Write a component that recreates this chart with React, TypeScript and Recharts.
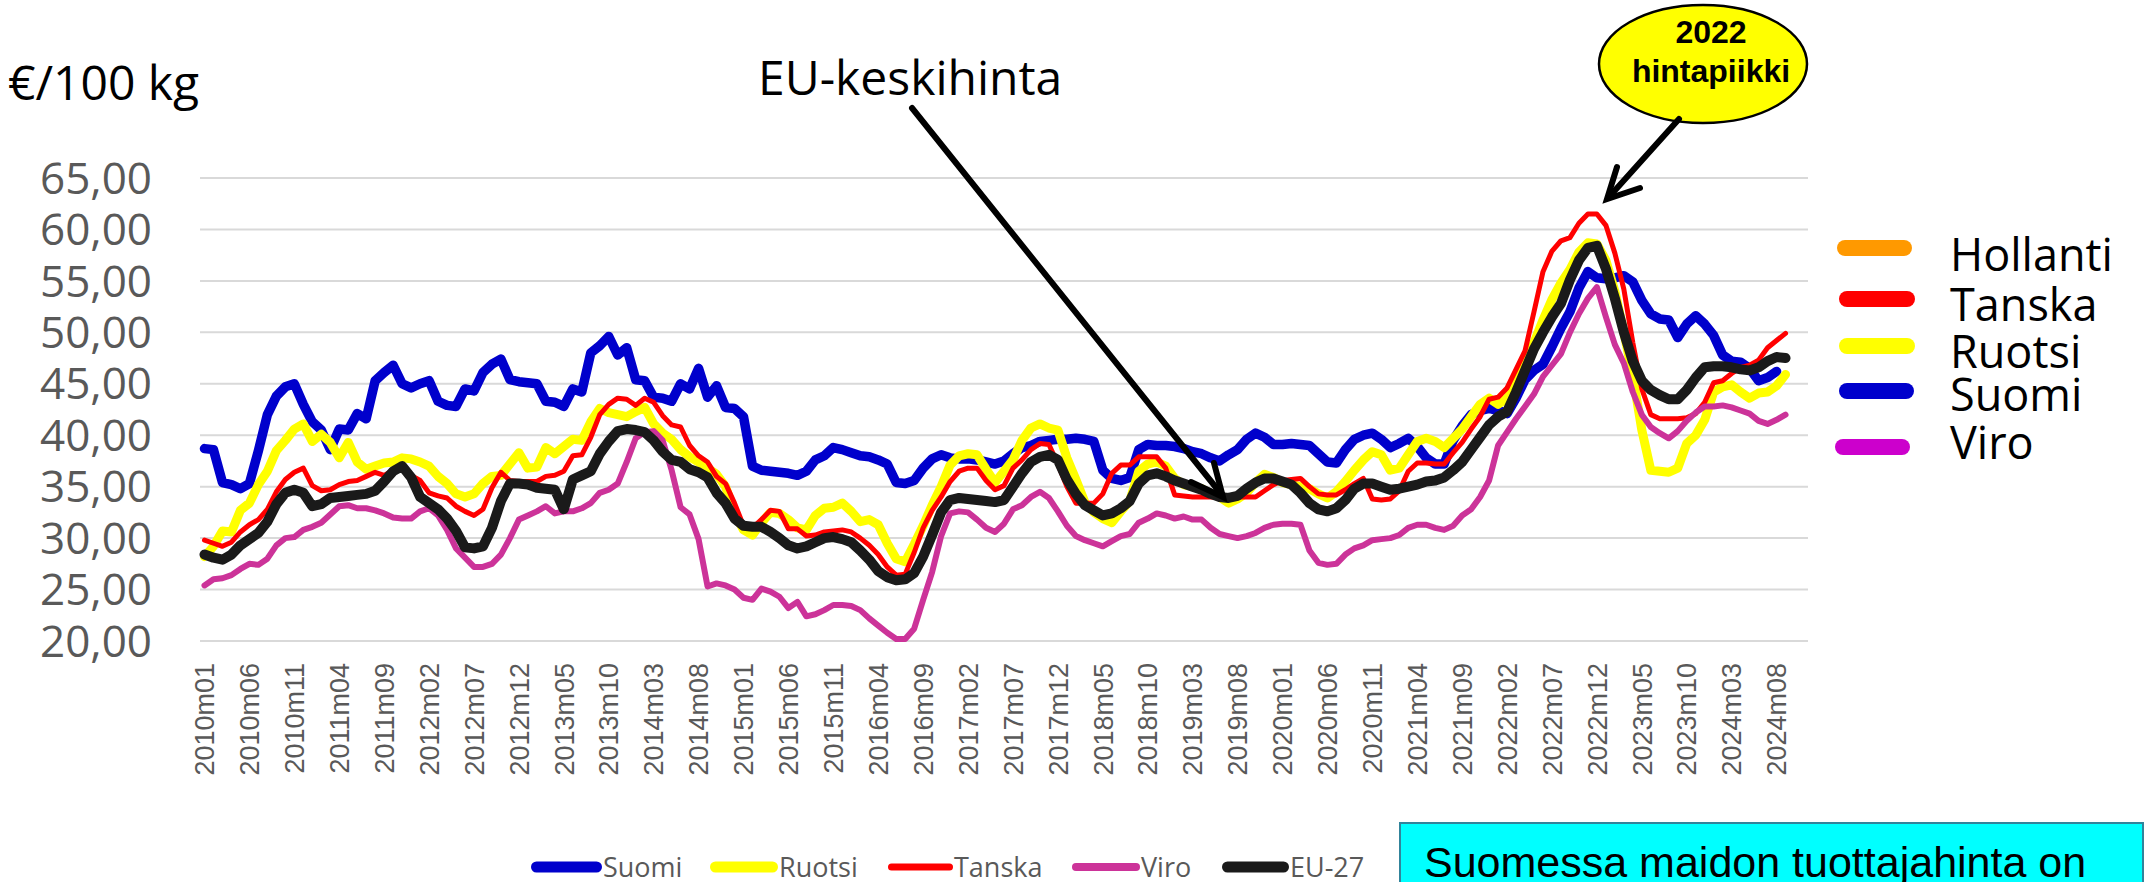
import React from "react";
import { LineChart, Line, XAxis, YAxis, CartesianGrid } from "recharts";

/* Categories: monthly, 2010m01 .. 2024m11 (last two months are empty) */
const YEARS = [2010, 2011, 2012, 2013, 2014, 2015, 2016, 2017, 2018, 2019, 2020, 2021, 2022, 2023, 2024];
const MONTHS = ["01", "02", "03", "04", "05", "06", "07", "08", "09", "10", "11", "12"];
const labels = YEARS.flatMap((y) => MONTHS.map((m) => `${y}m${m}`)).slice(0, 179);

const yTicks = [20, 25, 30, 35, 40, 45, 50, 55, 60, 65];

// €/100 kg, one row per year
const suomi = [
  38.7, 38.6, 35.4, 35.2, 34.8, 35.3, 38.5, 42.0, 43.8, 44.7, 45.0, 43.0,
  41.3, 40.5, 38.6, 40.6, 40.5, 42.1, 41.6, 45.3, 46.1, 46.8, 45.0, 44.6,
  45.0, 45.3, 43.3, 42.9, 42.8, 44.5, 44.3, 46.1, 46.9, 47.4, 45.4, 45.2,
  45.1, 45.0, 43.3, 43.2, 42.8, 44.5, 44.2, 48.0, 48.7, 49.6, 47.8, 48.5,
  45.4, 45.3, 43.7, 43.6, 43.3, 45.0, 44.5, 46.5, 43.7, 44.8, 42.7, 42.6,
  41.8, 37.0, 36.6, 36.5, 36.4, 36.3, 36.1, 36.5, 37.6, 38.0, 38.8, 38.6,
  38.3, 38.0, 37.9, 37.6, 37.2, 35.4, 35.3, 35.6, 36.8, 37.7, 38.1, 37.8,
  37.7, 37.7, 37.6, 37.4, 37.2, 37.5, 38.2, 38.8, 39.0, 39.4, 39.5, 39.6,
  39.6, 39.7, 39.6, 39.4, 36.6, 35.8, 35.6, 35.9, 38.6, 39.1, 39.0, 39.0,
  38.9, 38.7, 38.4, 38.2, 37.8, 37.5, 38.1, 38.6, 39.6, 40.2, 39.8, 39.1,
  39.1, 39.2, 39.1, 39.0, 38.2, 37.4, 37.3, 38.6, 39.6, 40.0, 40.2, 39.6,
  38.8, 39.2, 39.7, 38.9, 37.8, 37.2, 37.2, 39.5, 40.9, 42.0, 42.4, 42.6,
  42.4, 42.1, 43.6, 45.4, 46.3, 46.9, 48.6, 50.4, 52.0, 54.3, 55.9, 55.3,
  55.2, 55.3, 55.5, 54.9, 53.1, 51.8, 51.3, 51.2, 49.5, 50.8, 51.6, 50.8,
  49.7, 47.8, 47.2, 47.1, 46.5, 45.3, 45.6, 46.2,
];

const ruotsi = [
  28.2, 29.2, 30.7, 30.6, 32.7, 33.4, 35.2, 36.5, 38.5, 39.5, 40.6, 41.1,
  39.4, 40.1, 39.3, 37.8, 39.3, 37.4, 36.7, 37.0, 37.3, 37.4, 37.8, 37.7,
  37.4, 37.0, 36.0, 35.3, 34.3, 34.0, 34.3, 35.3, 36.0, 36.1, 37.2, 38.3,
  36.8, 36.9, 38.8, 38.2, 38.9, 39.6, 39.5, 41.3, 42.6, 42.2, 42.0, 41.8,
  42.3, 42.7, 41.1, 40.2, 39.6, 38.6, 37.9, 37.4, 36.8, 36.2, 35.0, 32.5,
  30.8, 30.3, 31.5, 32.5, 32.4, 31.8, 31.0, 30.8, 32.2, 32.9, 33.0, 33.4,
  32.6, 31.6, 31.8, 31.3, 29.5, 28.0, 27.7, 29.4, 31.2, 33.2, 35.0, 37.1,
  38.0, 38.2, 38.1, 36.7, 35.4, 36.5, 37.6, 39.5, 40.7, 41.1, 40.7, 40.5,
  37.8, 35.7, 33.5, 32.5, 31.9, 31.5, 32.6, 33.6, 36.5, 37.2, 37.4, 37.0,
  35.8, 35.2, 35.0, 34.8, 34.3, 34.0, 33.4, 33.8, 34.4, 35.4, 36.2, 35.9,
  35.4, 35.2, 35.0, 34.8, 34.3, 33.9, 34.5, 35.5, 36.6, 37.6, 38.4, 38.1,
  36.6, 36.8, 38.1, 39.4, 39.7, 39.4, 38.8, 39.7, 40.6, 41.8, 43.0, 43.6,
  43.0, 43.6, 44.9, 47.0, 49.0, 51.2, 53.2, 54.8, 56.1, 57.8, 58.7, 58.6,
  57.0, 54.0, 50.0, 45.8, 40.5, 36.6, 36.5, 36.4, 36.8, 39.2, 40.0, 41.5,
  44.2, 44.7, 44.9, 44.2, 43.6, 44.1, 44.2, 44.8, 45.9,
];

const tanska = [
  29.8, 29.5, 29.2, 29.6, 30.6, 31.3, 31.8, 32.8, 34.5, 35.7, 36.4, 36.8,
  35.1, 34.6, 34.7, 35.2, 35.5, 35.6, 36.0, 36.4, 36.1, 36.6, 36.7, 36.1,
  35.6, 34.4, 34.1, 33.9, 33.1, 32.6, 32.2, 32.8, 34.9, 36.4, 35.6, 35.5,
  35.5, 35.5, 36.0, 36.1, 36.5, 38.0, 38.1, 39.8, 42.0, 43.0, 43.6, 43.5,
  42.9, 43.6, 43.2, 41.9, 41.0, 40.8, 39.0, 38.0, 37.4, 36.0, 35.3, 33.4,
  31.2, 31.0, 31.8, 32.7, 32.6, 30.9, 30.9, 30.2, 30.3, 30.6, 30.7, 30.8,
  30.6, 30.0, 29.3, 28.4, 27.2, 26.4, 26.5, 28.6, 31.0, 32.7, 34.0, 35.5,
  36.5, 36.8, 36.8, 35.6, 34.7, 35.1, 36.8, 37.6, 38.6, 39.2, 39.1, 37.2,
  35.0, 33.4, 33.4, 33.4, 34.3, 36.3, 37.1, 37.1, 37.9, 37.9, 37.9, 36.8,
  34.2, 34.1, 34.0, 34.0, 34.0, 34.0, 34.0, 34.0, 34.0, 34.0, 34.6, 35.2,
  35.6, 35.7, 35.8, 35.0, 34.3, 34.2, 34.2, 34.7, 35.3, 35.8, 33.8, 33.7,
  33.8, 34.6, 36.5, 37.3, 37.3, 37.2, 37.2, 38.3, 39.3, 40.6, 41.8, 43.5,
  43.7, 44.6, 46.4, 48.2, 52.0, 55.9, 57.9, 58.9, 59.2, 60.6, 61.5, 61.5,
  60.4, 57.7, 54.2, 49.0, 44.5, 42.0, 41.6, 41.6, 41.6, 41.7, 42.1, 43.2,
  45.1, 45.3, 46.0, 46.6, 46.8, 47.3, 48.5, 49.2, 49.9,
];

const viro = [
  25.4, 26.0, 26.1, 26.4, 27.0, 27.5, 27.4, 28.0, 29.3, 30.0, 30.1, 30.8,
  31.1, 31.5, 32.3, 33.1, 33.2, 32.9, 32.9, 32.7, 32.4, 32.0, 31.9, 31.9,
  32.6, 32.9, 32.2, 30.8, 29.0, 28.1, 27.2, 27.2, 27.5, 28.4, 30.0, 31.8,
  32.2, 32.6, 33.1, 32.4, 32.6, 32.6, 32.9, 33.4, 34.4, 34.7, 35.3, 37.4,
  39.7, 40.3, 40.4, 39.5, 36.6, 33.0, 32.3, 29.9, 25.3, 25.6, 25.4, 25.0,
  24.2, 24.0, 25.1, 24.8, 24.3, 23.2, 23.8, 22.4, 22.6, 23.0, 23.5, 23.5,
  23.4, 23.0, 22.2, 21.5, 20.8, 20.2, 20.2, 21.2, 24.0, 26.7, 30.2, 32.4,
  32.6, 32.5, 31.8, 31.0, 30.6, 31.4, 32.8, 33.2, 34.0, 34.5, 33.9, 32.6,
  31.2, 30.2, 29.8, 29.5, 29.2, 29.7, 30.2, 30.4, 31.5, 31.9, 32.4, 32.2,
  31.9, 32.1, 31.8, 31.8, 31.0, 30.4, 30.2, 30.0, 30.2, 30.5, 31.0, 31.3,
  31.4, 31.4, 31.3, 28.8, 27.6, 27.4, 27.5, 28.4, 29.0, 29.3, 29.8, 29.9,
  30.0, 30.3, 31.0, 31.3, 31.3, 31.0, 30.8, 31.2, 32.2, 32.8, 34.0, 35.6,
  39.0, 40.3, 41.6, 42.8, 44.0, 45.7, 46.8, 47.9, 50.0, 51.8, 53.3, 54.4,
  51.5, 48.8, 47.0, 44.2, 42.0, 40.8, 40.2, 39.7, 40.4, 41.4, 42.2, 42.8,
  42.8, 42.9, 42.7, 42.4, 42.1, 41.4, 41.1, 41.5, 42.0,
];

const eu27 = [
  28.4, 28.1, 27.9, 28.4, 29.3, 29.9, 30.5, 31.6, 33.3, 34.4, 34.7, 34.4,
  33.1, 33.3, 33.9, 34.0, 34.1, 34.2, 34.3, 34.6, 35.5, 36.5, 37.0, 35.9,
  34.0, 33.4, 32.8, 31.9, 30.7, 29.1, 29.0, 29.2, 31.0, 33.6, 35.3, 35.3,
  35.2, 34.9, 34.8, 34.7, 32.8, 35.7, 36.1, 36.5, 38.2, 39.4, 40.4, 40.6,
  40.5, 40.3, 39.5, 38.4, 37.6, 37.4, 36.7, 36.4, 35.9, 34.4, 33.4, 31.9,
  31.2, 31.1, 31.1, 30.6, 30.0, 29.3, 29.0, 29.2, 29.6, 30.0, 30.1, 29.9,
  29.6, 28.8, 27.9, 26.8, 26.2, 25.9, 26.0, 26.6, 28.2, 30.3, 32.5, 33.7,
  33.9, 33.8, 33.7, 33.6, 33.5, 33.7, 35.0, 36.3, 37.4, 37.9, 38.1, 37.6,
  35.7, 34.3, 33.2, 32.7, 32.2, 32.4, 32.9, 33.6, 35.3, 36.1, 36.3, 36.0,
  35.6, 35.3, 35.0, 34.7, 34.3, 34.0, 33.9, 34.1, 34.8, 35.4, 35.8, 35.8,
  35.5, 35.2, 34.4, 33.4, 32.8, 32.6, 32.9, 33.7, 34.8, 35.3, 35.3, 35.0,
  34.7, 34.8, 35.0, 35.2, 35.5, 35.6, 35.9, 36.6, 37.4, 38.6, 39.8, 41.0,
  41.8, 42.3, 44.2, 46.3, 48.4, 50.0, 51.5, 52.8, 55.1, 57.0, 58.2, 58.4,
  56.2, 53.3, 50.0, 47.2, 45.3, 44.4, 43.9, 43.5, 43.5, 44.4, 45.6, 46.6,
  46.7, 46.7, 46.6, 46.4, 46.3, 46.6, 47.2, 47.6, 47.5,
];

const data = labels.map((label, i) => ({
  label,
  suomi: suomi[i] ?? null,
  ruotsi: ruotsi[i] ?? null,
  tanska: tanska[i] ?? null,
  viro: viro[i] ?? null,
  eu27: eu27[i] ?? null,
}));

const series = [
  { key: "suomi", name: "Suomi", color: "#0000CC", width: 9.5 },
  { key: "ruotsi", name: "Ruotsi", color: "#FFFF00", width: 9 },
  { key: "tanska", name: "Tanska", color: "#FF0000", width: 5 },
  { key: "viro", name: "Viro", color: "#CC3399", width: 6 },
  { key: "eu27", name: "EU-27", color: "#1A1A1A", width: 10 },
];

/* Right-hand legend (as in the slide, Hollanti has no line in the plot) */
const sideLegend = [
  { name: "Hollanti", color: "#FF9900", x1: 1837, x2: 1912, y: 248, ty: 271 },
  { name: "Tanska", color: "#FF0000", x1: 1839, x2: 1915, y: 299, ty: 321 },
  { name: "Ruotsi", color: "#FFFF00", x1: 1839, x2: 1915, y: 346, ty: 368 },
  { name: "Suomi", color: "#0000CC", x1: 1839, x2: 1914, y: 391, ty: 411 },
  { name: "Viro", color: "#CC00CC", x1: 1835, x2: 1910, y: 447, ty: 459 },
];

/* Bottom legend item positions */
const bottomLegend = [
  { name: "Suomi", color: "#0000CC", x1: 531, x2: 602, w: 11 },
  { name: "Ruotsi", color: "#FFFF00", x1: 710, x2: 778, w: 11 },
  { name: "Tanska", color: "#FF0000", x1: 888, x2: 953, w: 7 },
  { name: "Viro", color: "#CC3399", x1: 1072, x2: 1140, w: 8 },
  { name: "EU-27", color: "#1A1A1A", x1: 1222, x2: 1289, w: 11 },
];

const fmt = (v: number) => v.toFixed(2).replace(".", ",");

function XTick(props: any) {
  const { x, y, payload } = props;
  return (
    <text
      transform={`translate(${x},${y}) rotate(-90)`}
      textAnchor="end"
      dy="0.36em"
      fontSize={27}
      fontFamily="'Liberation Sans', Arial, sans-serif"
      fill="#595959"
    >
      {payload.value}
    </text>
  );
}

function Overlay() {
  const sans = "'Open Sans', sans-serif";
  const arial = "'Liberation Sans', Arial, sans-serif";
  return (
    <svg
      width={2145}
      height={882}
      style={{ position: "absolute", left: 0, top: 0, pointerEvents: "none" }}
    >
      <text x={8} y={100} fontSize={48} fontFamily={sans} fill="#000">
        €/100 kg
      </text>

      {/* EU-keskihinta arrow */}
      <text x={758} y={95} fontSize={48} fontFamily={sans} fill="#000">
        EU-keskihinta
      </text>
      <g stroke="#000" strokeWidth={6} strokeLinecap="round" fill="none">
        <line x1={912} y1={108} x2={1222} y2={495} />
        <polyline points="1214,463 1223,497 1191,482" strokeLinejoin="miter" />
      </g>

      {/* 2022 hintapiikki bubble */}
      <ellipse cx={1703} cy={64} rx={104} ry={59} fill="#FFFF00" stroke="#000" strokeWidth={2.5} />
      <text x={1711} y={43} textAnchor="middle" fontSize={32} fontWeight="bold" fontFamily={arial}>
        2022
      </text>
      <text x={1711} y={82} textAnchor="middle" fontSize={32} fontWeight="bold" fontFamily={arial}>
        hintapiikki
      </text>
      <g stroke="#000" strokeWidth={6} strokeLinecap="round" fill="none">
        <line x1={1679} y1={119} x2={1609} y2={197} />
        <polyline points="1617,167 1607,199 1640,188" strokeLinejoin="miter" />
      </g>

      {/* Right legend */}
      {sideLegend.map((d) => (
        <g key={d.name}>
          <line x1={d.x1 + 8} x2={d.x2 - 8} y1={d.y} y2={d.y} stroke={d.color} strokeWidth={16} strokeLinecap="round" />
          <text x={1950} y={d.ty} fontSize={45} fontFamily={sans} fill="#000">
            {d.name}
          </text>
        </g>
      ))}

      {/* Bottom legend */}
      {bottomLegend.map((d) => (
        <g key={d.name}>
          <line x1={d.x1 + d.w / 2} x2={d.x2 - d.w / 2} y1={867} y2={867} stroke={d.color} strokeWidth={d.w} strokeLinecap="round" />
          <text x={d.x2 + 1} y={877} fontSize={27} fontFamily={sans} fill="#595959">
            {d.name}
          </text>
        </g>
      ))}

      {/* Cyan text box */}
      <rect x={1400} y={823} width={743} height={80} fill="#00FFFF" stroke="#31849B" strokeWidth={2} />
      <text x={1424} y={877} fontSize={43} fontFamily={arial} fill="#000">
        Suomessa maidon tuottajahinta on
      </text>
    </svg>
  );
}

export default function App() {
  return (
    <div style={{ position: "relative", width: 2145, height: 882, background: "#fff", overflow: "hidden" }}>
      <style>{"body{margin:0}"}</style>
      <LineChart
        width={2145}
        height={882}
        data={data}
        margin={{ top: 178, right: 337, bottom: 0, left: 0 }}
      >
        <CartesianGrid vertical={false} stroke="#D9D9D9" strokeWidth={2} />
        <XAxis
          dataKey="label"
          scale="point"
          padding={{ left: 4.5, right: 4.5 }}
          interval={4}
          height={241}
          axisLine={false}
          tickLine={false}
          tickSize={0}
          tickMargin={22}
          tick={<XTick />}
        />
        <YAxis
          width={200}
          domain={[20, 65]}
          ticks={yTicks}
          interval={0}
          axisLine={false}
          tickLine={false}
          tickSize={0}
          tickMargin={48}
          tickFormatter={fmt}
          tick={{ fontSize: 44, fill: "#595959", fontFamily: "'Open Sans', sans-serif" }}
        />
        {series.map((s) => (
          <Line
            key={s.key}
            type="linear"
            dataKey={s.key}
            name={s.name}
            stroke={s.color}
            strokeWidth={s.width}
            strokeLinejoin="round"
            strokeLinecap="round"
            dot={false}
            activeDot={false}
            isAnimationActive={false}
          />
        ))}
      </LineChart>
      <Overlay />
    </div>
  );
}
